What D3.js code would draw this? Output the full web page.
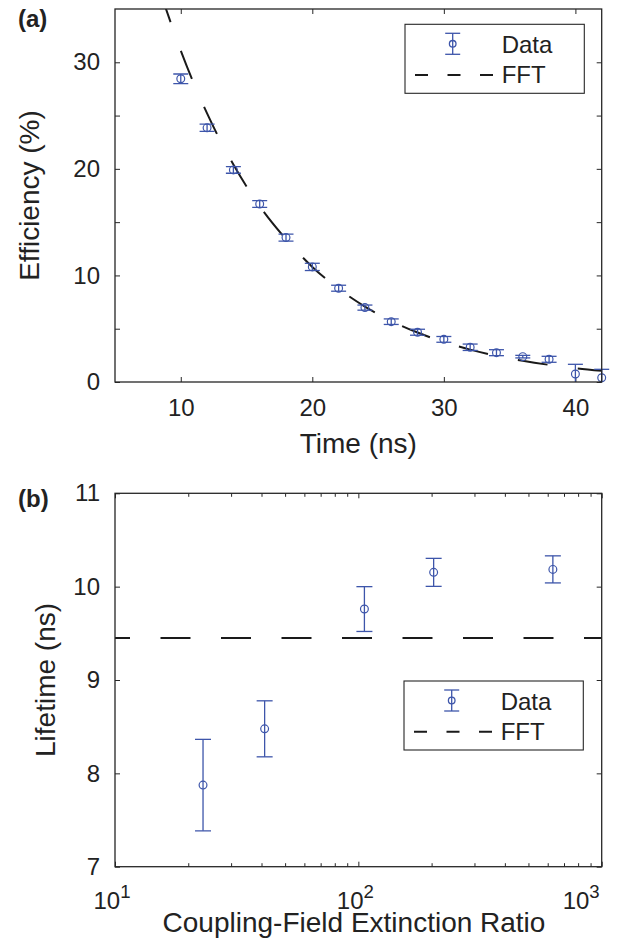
<!DOCTYPE html>
<html>
<head>
<meta charset="utf-8">
<script src="https://cdn.jsdelivr.net/npm/d3@7"></script>
<style>
  body { margin: 0; background: #fff; }
  svg { display: block; }
  text { font-family: "Liberation Sans", Arial, Helvetica, sans-serif; fill: #222; }
</style>
</head>
<body>
<svg id="chart" width="626" height="950"></svg>
<script>
// ---- panel (a) data: efficiency vs time ----
var timeNs = [10, 12, 14, 16, 18, 20, 22, 24, 26, 28, 30, 32, 34, 36, 38, 40, 42];
var efficiency = [28.45, 23.85, 19.9, 16.7, 13.55, 10.8, 8.8, 6.98, 5.66, 4.67, 4.0, 3.26, 2.75, 2.38, 2.13, 0.75, 0.40];
var efficiencyErr = [0.45, 0.34, 0.31, 0.31, 0.33, 0.34, 0.28, 0.24, 0.26, 0.28, 0.27, 0.30, 0.28, 0.12, 0.28, 0.91, 0.79];
var fftTime = [8.85, 10, 12, 14, 16, 18, 20, 22, 24, 26, 28, 30, 32, 34, 36, 38, 40, 42];
var fftEfficiency = [35.1, 31.1, 25.2, 20.4, 16.5, 13.4, 10.8, 8.75, 7.08, 5.73, 4.64, 3.75, 3.04, 2.46, 1.99, 1.61, 1.30, 1.05];
var timeDomain = [5, 42];
var timeTicks = [10, 20, 30, 40];
var effDomain = [0, 35];
var effTicks = [0, 5, 10, 15, 20, 25, 30];

// ---- panel (b) data: lifetime vs extinction ratio ----
var ratio = [23.0, 41.2, 105.9, 203.9, 630];
var lifetime = [7.874, 8.477, 9.76, 10.153, 10.185];
var lifetimeErr = [0.49, 0.30, 0.24, 0.15, 0.145];
var fftLifetime = 9.45;
var ratioDomain = [10, 1000];
var ratioMajor = [10, 100, 1000];
var ratioMinor = [20, 30, 40, 50, 60, 70, 80, 90, 200, 300, 400, 500, 600, 700, 800, 900];
var lifeDomain = [7, 11];
var lifeTicks = [7, 8, 9, 10, 11];

var blue = "#3d55aa";
var ink = "#262626";

var svg = d3.select("#chart");

function styleAxis(sel) {
  sel.select(".domain").remove();
  sel.attr("font-size", 24)
    .attr("font-family", "'Liberation Sans', Arial, Helvetica, sans-serif")
    .attr("color", ink);
  sel.selectAll(".tick line").attr("stroke-width", 1);
}

function frame(g, w, h) {
  g.append("rect")
    .attr("width", w).attr("height", h)
    .attr("fill", "none").attr("stroke", ink).attr("stroke-width", 1.3);
}

function errorBars(g, xs, ys, errs, x, y, cap, clipId) {
  var pts = xs.map(function(d, i) { return {x: d, y: ys[i], e: errs[i]}; });
  var eb = g.append("g")
    .attr("clip-path", "url(#" + clipId + ")")
    .attr("stroke", blue).attr("stroke-width", 1.3).attr("fill", "none");
  eb.selectAll("line.v").data(pts).join("line").attr("class", "v")
    .attr("x1", function(d) { return x(d.x); }).attr("x2", function(d) { return x(d.x); })
    .attr("y1", function(d) { return y(d.y - d.e); }).attr("y2", function(d) { return y(d.y + d.e); });
  eb.selectAll("line.t").data(pts).join("line").attr("class", "t")
    .attr("x1", function(d) { return x(d.x) - cap; }).attr("x2", function(d) { return x(d.x) + cap; })
    .attr("y1", function(d) { return y(d.y + d.e); }).attr("y2", function(d) { return y(d.y + d.e); });
  eb.selectAll("line.b").data(pts).join("line").attr("class", "b")
    .attr("x1", function(d) { return x(d.x) - cap; }).attr("x2", function(d) { return x(d.x) + cap; })
    .attr("y1", function(d) { return y(d.y - d.e); }).attr("y2", function(d) { return y(d.y - d.e); });
  g.append("g").attr("stroke", blue).attr("stroke-width", 1.2).attr("fill", "none")
    .selectAll("circle").data(pts).join("circle")
    .attr("cx", function(d) { return x(d.x); })
    .attr("cy", function(d) { return y(d.y); })
    .attr("r", 3.9);
}

function legend(g, lx, ly) {
  var lg = g.append("g").attr("transform", "translate(" + lx + "," + ly + ")");
  lg.append("rect").attr("width", 179.3).attr("height", 69)
    .attr("fill", "#fff").attr("stroke", ink).attr("stroke-width", 1.1);
  var s = lg.append("g").attr("stroke", blue).attr("stroke-width", 1.3).attr("fill", "none");
  s.append("line").attr("x1", 47.7).attr("x2", 47.7).attr("y1", 9).attr("y2", 30);
  s.append("line").attr("x1", 40.2).attr("x2", 55.2).attr("y1", 9).attr("y2", 9);
  s.append("line").attr("x1", 40.2).attr("x2", 55.2).attr("y1", 30).attr("y2", 30);
  s.append("circle").attr("cx", 47.7).attr("cy", 19.5).attr("r", 3.3);
  lg.append("text").attr("x", 96.7).attr("y", 29).attr("font-size", 24).text("Data");
  lg.append("line").attr("x1", 10).attr("x2", 88.3).attr("y1", 50.7).attr("y2", 50.7)
    .attr("stroke", "#1a1a1a").attr("stroke-width", 2).attr("stroke-dasharray", "13,19.5");
  lg.append("text").attr("x", 96.7).attr("y", 59).attr("font-size", 24).text("FFT");
}

// ================= panel (a) =================
var A = {left: 115, top: 9, right: 601.7, bottom: 382};
var wA = A.right - A.left, hA = A.bottom - A.top;
var gA = svg.append("g").attr("transform", "translate(" + A.left + "," + A.top + ")");
var xA = d3.scaleLinear().domain(timeDomain).range([0, wA]);
var yA = d3.scaleLinear().domain(effDomain).range([hA, 0]);

svg.append("defs").append("clipPath").attr("id", "clipA")
  .append("rect").attr("width", wA).attr("height", hA);
svg.select("defs").append("clipPath").attr("id", "clipAeb")
  .append("rect").attr("x", -30).attr("width", wA + 60).attr("height", hA);
svg.select("defs").append("clipPath").attr("id", "clipBeb")
  .append("rect").attr("x", -30).attr("width", 546.7).attr("height", 373.4);

gA.append("g").attr("transform", "translate(0," + hA + ")")
  .call(d3.axisBottom(xA).tickValues(timeTicks).tickSizeInner(-5).tickSizeOuter(0).tickPadding(17))
  .call(styleAxis);
gA.append("g")
  .call(d3.axisTop(xA).tickValues(timeTicks).tickSizeInner(-5).tickSizeOuter(0).tickFormat(""))
  .call(styleAxis);
gA.append("g")
  .call(d3.axisLeft(yA).tickValues(effTicks).tickSizeInner(-5).tickSizeOuter(0).tickPadding(15)
    .tickFormat(function(d) { return d % 10 === 0 ? d : ""; }))
  .call(styleAxis);
gA.append("g").attr("transform", "translate(" + wA + ",0)")
  .call(d3.axisRight(yA).tickValues(effTicks).tickSizeInner(-5).tickSizeOuter(0).tickFormat(""))
  .call(styleAxis);

var fftLineA = d3.line()
  .x(function(d) { return xA(d[0]); })
  .y(function(d) { return yA(d[1]); })
  .curve(d3.curveMonotoneX);
gA.append("path")
  .datum(fftTime.map(function(t, i) { return [t, fftEfficiency[i]]; }))
  .attr("clip-path", "url(#clipA)")
  .attr("d", fftLineA)
  .attr("fill", "none").attr("stroke", "#1a1a1a").attr("stroke-width", 2)
  .attr("stroke-dasharray", "30,30.5").attr("stroke-dashoffset", 15);

errorBars(gA, timeNs, efficiency, efficiencyErr, xA, yA, 7.5, "clipAeb");
frame(gA, wA, hA);
legend(gA, 290, 15.3);

gA.append("text").attr("x", wA / 2).attr("y", 453 - A.top)
  .attr("text-anchor", "middle").attr("font-size", 28).text("Time (ns)");
svg.append("text")
  .attr("transform", "translate(39," + (A.top + hA / 2) + ") rotate(-90)")
  .attr("text-anchor", "middle").attr("font-size", 28).text("Efficiency (%)");
svg.append("text").attr("x", 18).attr("y", 26.5)
  .attr("font-size", 24).attr("font-weight", "bold").text("(a)");

// ================= panel (b) =================
var B = {left: 115, top: 493.3, right: 601.7, bottom: 866.7};
var wB = B.right - B.left, hB = B.bottom - B.top;
var gB = svg.append("g").attr("transform", "translate(" + B.left + "," + B.top + ")");
var xB = d3.scaleLog().domain(ratioDomain).range([0, wB]);
var yB = d3.scaleLinear().domain(lifeDomain).range([hB, 0]);

gB.append("g").attr("transform", "translate(0," + hB + ")")
  .call(d3.axisBottom(xB).tickValues(ratioMajor).tickSizeInner(-5).tickSizeOuter(0).tickFormat(""))
  .call(styleAxis);
gB.append("g").attr("transform", "translate(0," + hB + ")")
  .call(d3.axisBottom(xB).tickValues(ratioMinor).tickSizeInner(-3.5).tickSizeOuter(0).tickFormat(""))
  .call(styleAxis);
gB.append("g")
  .call(d3.axisTop(xB).tickValues(ratioMajor).tickSizeInner(-5).tickSizeOuter(0).tickFormat(""))
  .call(styleAxis);
gB.append("g")
  .call(d3.axisTop(xB).tickValues(ratioMinor).tickSizeInner(-3.5).tickSizeOuter(0).tickFormat(""))
  .call(styleAxis);
gB.append("g")
  .call(d3.axisLeft(yB).tickValues(lifeTicks).tickSizeInner(-5).tickSizeOuter(0).tickPadding(15)
    .tickFormat(d3.format("d")))
  .call(styleAxis);
gB.append("g").attr("transform", "translate(" + wB + ",0)")
  .call(d3.axisRight(yB).tickValues(lifeTicks).tickSizeInner(-5).tickSizeOuter(0).tickFormat(""))
  .call(styleAxis);

// power-of-ten labels
ratioMajor.forEach(function(v, i) {
  var last = i === ratioMajor.length - 1;
  var t = gB.append("text")
    .attr("x", last ? xB(v) - 2 : xB(v) - 3)
    .attr("y", hB + 42)
    .attr("text-anchor", last ? "end" : "middle")
    .attr("font-size", 24);
  t.append("tspan").text("10");
  t.append("tspan").attr("dy", -10.7).attr("font-size", 18.6).text(String(Math.round(Math.log10(v))));
});

gB.append("line")
  .attr("x1", 0).attr("x2", wB)
  .attr("y1", yB(fftLifetime)).attr("y2", yB(fftLifetime))
  .attr("stroke", "#1a1a1a").attr("stroke-width", 2)
  .attr("stroke-dasharray", "30,30.5").attr("stroke-dashoffset", 15);

errorBars(gB, ratio, lifetime, lifetimeErr, xB, yB, 8, "clipBeb");
frame(gB, wB, hB);
legend(gB, 289, 187.7);

svg.append("text").attr("x", 354).attr("y", 932)
  .attr("text-anchor", "middle").attr("font-size", 28).text("Coupling-Field Extinction Ratio");
svg.append("text")
  .attr("transform", "translate(55," + (B.top + hB / 2) + ") rotate(-90)")
  .attr("text-anchor", "middle").attr("font-size", 28).text("Lifetime (ns)");
svg.append("text").attr("x", 18).attr("y", 507)
  .attr("font-size", 24).attr("font-weight", "bold").text("(b)");
</script>
</body>
</html>
